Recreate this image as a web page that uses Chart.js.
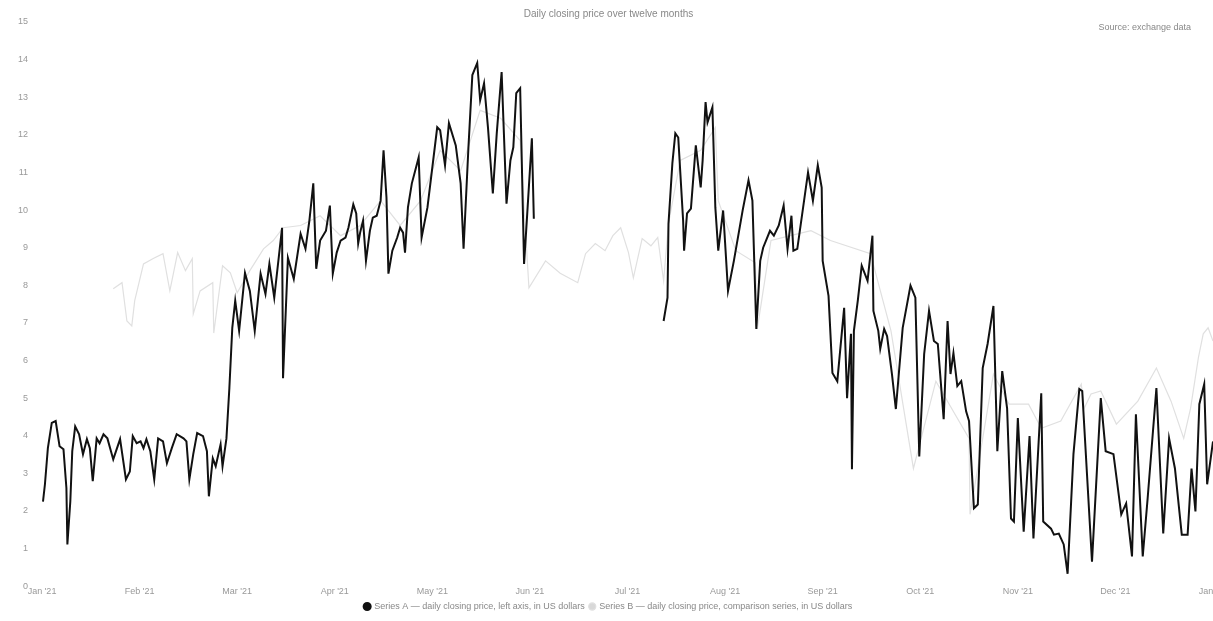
<!DOCTYPE html>
<html>
<head>
<meta charset="utf-8">
<title>Daily closing price</title>
<script src="https://cdn.jsdelivr.net/npm/chart.js@4.4.0/dist/chart.umd.min.js"></script>
<style>
  html, body { margin: 0; padding: 0; background: #fff; }
  #wrap { width: 1213px; height: 621px; }
</style>
</head>
<body>
<div id="wrap"><canvas id="price-chart" width="1213" height="621"></canvas></div>
<script>
'use strict';

// >>> chart data (x = months since start, y = price) <<<
const monthLabels = ['Jan \'21', 'Feb \'21', 'Mar \'21', 'Apr \'21', 'May \'21', 'Jun \'21',
  'Jul \'21', 'Aug \'21', 'Sep \'21', 'Oct \'21', 'Nov \'21', 'Dec \'21', 'Jan \'22'];

const seriesNames = ['Series A \u2014 daily closing price, left axis, in US dollars',
  'Series B \u2014 daily closing price, comparison series, in US dollars'];

// main (dark) series; a null value marks missing data
const darkMonths = [0.01, 0.03, 0.06, 0.10, 0.14, 0.18, 0.22, 0.25, 0.26, 0.29, 0.31, 0.34, 0.38, 0.42, 0.46, 0.49,
  0.52, 0.56, 0.59, 0.63, 0.67, 0.73, 0.80, 0.86, 0.90, 0.93, 0.97, 1.01, 1.04, 1.07, 1.11, 1.15, 1.19, 1.24,
  1.28, 1.33, 1.38, 1.45, 1.48, 1.51, 1.55, 1.59, 1.65, 1.69, 1.71, 1.75, 1.78, 1.83, 1.85, 1.89, 1.92, 1.95,
  1.98, 2.02, 2.08, 2.13, 2.18, 2.24, 2.29, 2.33, 2.38, 2.46, 2.47, 2.52, 2.58, 2.65, 2.70, 2.74, 2.78, 2.81,
  2.85, 2.91, 2.95, 2.98, 3.02, 3.06, 3.11, 3.14, 3.19, 3.22, 3.24, 3.26, 3.29, 3.32, 3.36, 3.39, 3.43, 3.47,
  3.50, 3.53, 3.55, 3.59, 3.64, 3.67, 3.70, 3.72, 3.75, 3.79, 3.86, 3.89, 3.95, 4.05, 4.08, 4.13, 4.17, 4.24,
  4.29, 4.32, 4.37, 4.41, 4.46, 4.49, 4.53, 4.57, 4.62, 4.66, 4.71, 4.76, 4.80, 4.83, 4.86, 4.90, 4.94, 4.97,
  5.02, 5.04, 5.50,
  6.37, 6.41, 6.42, 6.46, 6.49, 6.52, 6.57, 6.58, 6.61, 6.65, 6.70, 6.75, 6.77, 6.80, 6.82, 6.87, 6.90, 6.93,
  6.98, 7.03, 7.09, 7.18, 7.24, 7.28, 7.32, 7.36, 7.39, 7.46, 7.50, 7.55, 7.60, 7.64, 7.68, 7.70, 7.74, 7.85,
  7.90, 7.95, 7.99, 8.00, 8.06, 8.10, 8.15, 8.22, 8.25, 8.29, 8.30, 8.32, 8.36, 8.40, 8.46, 8.51, 8.52, 8.57,
  8.59, 8.63, 8.66, 8.71, 8.75, 8.82, 8.90, 8.95, 8.99, 9.04, 9.09, 9.14, 9.18, 9.24, 9.28, 9.31, 9.34, 9.38,
  9.42, 9.47, 9.50, 9.55, 9.59, 9.64, 9.69, 9.75, 9.79, 9.84, 9.89, 9.93, 9.96, 10.00, 10.06, 10.12, 10.16,
  10.24, 10.26, 10.34, 10.37, 10.42, 10.47, 10.51, 10.57, 10.63, 10.66, 10.76, 10.85, 10.90, 10.98, 11.06,
  11.11, 11.17, 11.21, 11.28, 11.33, 11.42, 11.49, 11.55, 11.61, 11.68, 11.74, 11.78, 11.82, 11.86, 11.91,
  11.94, 12.00];

const darkValues = [2.25, 2.71, 3.67, 4.34, 4.39, 3.72, 3.64, 2.61, 1.11, 2.25, 3.59, 4.25, 4.04, 3.51, 3.91, 3.67,
  2.79, 3.93, 3.80, 4.04, 3.93, 3.37, 3.91, 2.84, 3.05, 3.99, 3.80, 3.85, 3.67, 3.91, 3.59, 2.84, 3.93, 3.85,
  3.27, 3.67, 4.04, 3.93, 3.85, 2.84, 3.51, 4.07, 3.99, 3.59, 2.39, 3.40, 3.19, 3.77, 3.19, 3.93, 5.27, 6.87,
  7.59, 6.79, 8.33, 7.85, 6.79, 8.31, 7.77, 8.57, 7.67, 9.53, 5.53, 8.73, 8.17, 9.37, 8.97, 9.72, 10.71, 8.44,
  9.19, 9.45, 10.12, 8.31, 8.87, 9.19, 9.27, 9.53, 10.15, 9.91, 9.11, 9.40, 9.72, 8.65, 9.45, 9.80, 9.85, 10.25,
  11.59, 10.33, 8.31, 8.92, 9.27, 9.53, 9.40, 8.87, 10.07, 10.71, 11.40, 9.27, 10.07, 12.20, 12.12, 11.19, 12.31, 11.72,
  10.71, 8.97, 11.67, 13.59, 13.91, 12.92, 13.37, 12.20, 10.44, 12.04, 13.67, 10.17, 11.32, 11.67, 13.11, 13.24, 8.57, 9.80,
  11.91, 9.77, null,
  7.05, 7.67, 9.64, 11.25, 12.04, 11.93, 9.72, 8.92, 9.91, 10.04, 11.72, 10.60, 11.32, 12.87, 12.33, 12.73, 10.07, 8.92,
  9.99, 7.85, 8.65, 9.99, 10.79, 10.25, 6.84, 8.65, 9.00, 9.45, 9.32, 9.59, 10.12, 8.97, 9.85, 8.92, 8.97, 11.00,
  10.25, 11.19, 10.60, 8.65, 7.72, 5.67, 5.45, 7.40, 5.00, 6.71, 3.11, 6.79, 7.59, 8.52, 8.12, 9.32, 7.32, 6.79,
  6.31, 6.84, 6.65, 5.64, 4.71, 6.87, 7.99, 7.67, 3.45, 6.17, 7.32, 6.52, 6.44, 4.44, 7.05, 5.64, 6.20, 5.32,
  5.45, 4.65, 4.39, 2.07, 2.17, 5.80, 6.44, 7.45, 3.59, 5.72, 4.73, 1.80, 1.72, 4.47, 1.45, 3.99, 1.27,
  5.13, 1.72, 1.53, 1.37, 1.40, 1.11, 0.33, 3.51, 5.24, 5.19, 0.65, 5.00, 3.59, 3.51, 1.91,
  2.20, 0.79, 4.57, 0.79, 2.33, 5.27, 1.40, 3.93, 3.13, 1.37, 1.37, 3.13, 1.99, 4.84, 5.37,
  2.71, 3.85];

// comparison (light) series
const lightMonths = [0.73, 0.82, 0.87, 0.92, 0.95, 1.04, 1.14, 1.24, 1.31, 1.39, 1.47, 1.54, 1.55, 1.62, 1.75, 1.76,
  1.85, 1.93, 2.00, 2.13, 2.27, 2.37, 2.47, 2.65, 2.85, 3.06, 3.26, 3.47, 3.67, 3.88, 4.08, 4.29, 4.49, 4.70,
  4.90, 4.99, 5.16, 5.31, 5.49, 5.57, 5.67, 5.77, 5.85, 5.93, 6.01, 6.06, 6.15, 6.24, 6.31, 6.37, 6.42, 6.54,
  6.75, 6.90, 6.93, 7.11, 7.31, 7.33, 7.47, 7.67, 7.88, 8.08, 8.49, 8.70, 8.93, 9.16, 9.50, 9.51, 9.75, 9.91,
  10.00, 10.11, 10.24, 10.44, 10.65, 10.68, 10.75, 10.85, 11.01, 11.23, 11.42, 11.57, 11.70, 11.77, 11.85, 11.90,
  11.95, 12.00];

const lightValues = [7.91, 8.07, 7.05, 6.92, 7.59, 8.57, 8.71, 8.84, 7.85, 8.87, 8.39, 8.71, 7.24, 7.85, 8.07, 6.73,
  8.52, 8.33, 7.80, 8.39, 8.97, 9.19, 9.53, 9.59, 9.85, 9.32, 9.59, 10.25, 9.59, 10.25, 11.59, 11.05, 12.65, 12.44,
  11.85, 7.93, 8.65, 8.32, 8.07, 8.84, 9.11, 8.92, 9.32, 9.53, 8.87, 8.20, 9.24, 9.05, 9.27, 8.12, 9.64, 11.32,
  11.59, 12.20, 10.25, 8.92, 8.60, 6.84, 9.19, 9.32, 9.45, 9.19, 8.84, 6.79, 3.13, 5.45, 3.93, 1.91, 5.64, 4.84,
  4.84, 4.84, 4.20, 4.39, 5.37, 4.73, 5.11, 5.19, 4.31, 4.92, 5.80, 4.92, 3.93, 4.73, 6.07, 6.71,
  6.87, 6.52];

const yTicks = { min: 0, max: 15, step: 1 };

const fontFamily = '"Liberation Sans", Arial, sans-serif';


// >>> helpers <<<
function toPoints(xs, ys) {
  let pts = [];
  for (let i = 0; i < xs.length; i++) {
    pts.push({ x: xs[i], y: ys[i] });
  }
  return pts;
}

// small right-aligned note in the top corner
const cornerNote = {
  id: 'cornerNote',
  afterDraw(chart) {
    let ctx = chart.ctx;
    ctx.save();
    ctx.font = '9px ' + fontFamily;
    ctx.fillStyle = '#888';
    ctx.textAlign = 'right';
    ctx.textBaseline = 'middle';
    ctx.fillText('Source: exchange data', chart.chartArea.right - 22, 28);
    ctx.restore();
  }
};


// >>> render <<<
let canvasElement = document.getElementById('price-chart').getContext('2d');

let myChart = new Chart(canvasElement, {
  type: 'line',
  data: {
    datasets: [{
      label: seriesNames[0],
      data: toPoints(darkMonths, darkValues),
      borderColor: '#111111',
      backgroundColor: '#111111',
      borderWidth: 2,
      pointRadius: 0,
      tension: 0,
      spanGaps: false,
      order: 1
    },
    {
      label: seriesNames[1],
      data: toPoints(lightMonths, lightValues),
      borderColor: '#e0e0e0',
      backgroundColor: '#d8d8d8',
      borderWidth: 1.2,
      pointRadius: 0,
      tension: 0,
      order: 2
    }]
  },
  options: {
    responsive: false,
    animation: false,
    layout: { padding: { left: 4, right: 0, top: 0, bottom: 0 } },
    plugins: {
      title: {
        display: true,
        text: 'Daily closing price over twelve months',
        color: '#888',
        font: { size: 10, weight: 'normal', family: fontFamily },
        padding: { top: 8, bottom: 2 }
      },
      legend: {
        position: 'bottom',
        labels: {
          usePointStyle: true,
          pointStyle: 'circle',
          boxWidth: 5,
          boxHeight: 5,
          padding: 5,
          color: '#888',
          font: { size: 9, family: fontFamily }
        }
      },
      tooltip: { enabled: false }
    },
    scales: {
      x: {
        type: 'linear',
        min: 0,
        max: monthLabels.length - 1,
        grid: { display: false, drawTicks: false },
        border: { display: false },
        // let the first and last month labels run past the plot edges
        afterFit: function (scale) {
          scale.paddingLeft = 0;
          scale.paddingRight = 0;
        },
        ticks: {
          stepSize: 1,
          maxRotation: 0,
          autoSkip: false,
          padding: 0,
          color: '#999',
          font: { size: 9, family: fontFamily },
          callback: function (value) {
            return monthLabels[value];
          }
        }
      },
      y: {
        min: yTicks.min,
        max: yTicks.max,
        grid: { display: false, drawTicks: false },
        border: { display: false },
        ticks: {
          stepSize: yTicks.step,
          color: '#999',
          padding: 14,
          font: { size: 9, family: fontFamily }
        }
      }
    }
  },
  plugins: [cornerNote]
});
</script>
</body>
</html>
